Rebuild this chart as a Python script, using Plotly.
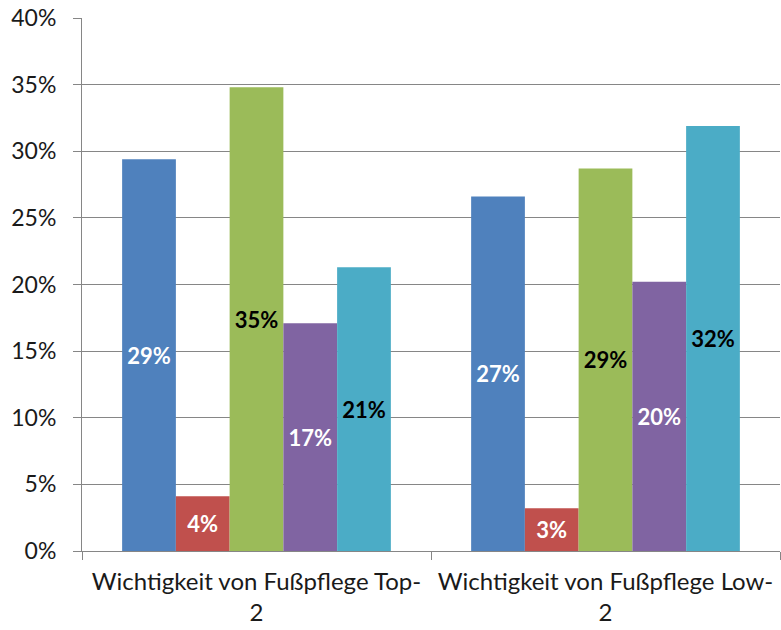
import plotly.graph_objects as go

categories = ["Wichtigkeit von Fußpflege Top-<br>2", "Wichtigkeit von Fußpflege Low-<br>2"]
series_names = ["S1", "S2", "S3", "S4", "S5"]
values = [
    [0.294, 0.266],
    [0.041, 0.032],
    [0.348, 0.287],
    [0.171, 0.202],
    [0.213, 0.319],
]
labels = [
    ["29%", "27%"],
    ["4%", "3%"],
    ["35%", "29%"],
    ["17%", "20%"],
    ["21%", "32%"],
]
colors = ["#4F81BD", "#C0504D", "#9BBB59", "#8064A2", "#4BACC6"]
label_colors = ["white", "white", "black", "white", "black"]
y_ticks = [0, 0.05, 0.10, 0.15, 0.20, 0.25, 0.30, 0.35, 0.40]
y_tick_text = ["0%", "5%", "10%", "15%", "20%", "25%", "30%", "35%", "40%"]

fig = go.Figure()
for name, vals, labs, col, lc in zip(series_names, values, labels, colors, label_colors):
    fig.add_trace(go.Bar(
        x=categories, y=vals, name=name, text=labs,
        textposition="inside", insidetextanchor="middle",
        textfont=dict(family="Lato", size=22, color=lc, weight="bold"),
        textangle=0,
        marker=dict(color=col, line=dict(width=0)),
        cliponaxis=False,
    ))

fig.update_layout(
    width=781, height=630,
    margin=dict(l=82, r=1, t=18, b=79),
    paper_bgcolor="white", plot_bgcolor="white",
    barmode="group", bargap=0.23, bargroupgap=0,
    showlegend=False,
    uniformtext=dict(mode=False),
    font=dict(family="Lato", size=23, color="#1a1a1a"),
)
fig.update_yaxes(
    range=[0, 0.40], tickvals=y_ticks, ticktext=y_tick_text,
    showgrid=True, gridcolor="#868686", gridwidth=1,
    showline=True, linecolor="#868686", linewidth=1,
    ticks="outside", ticklen=8, tickcolor="#868686",
    zeroline=False, tickfont=dict(size=23, family="Lato"),
    ticklabelstandoff=12, automargin=False,
)
fig.update_xaxes(
    showline=True, linecolor="#868686", linewidth=1,
    ticks="outside", ticklen=8, tickcolor="#868686", tickson="boundaries",
    tickfont=dict(size=24, family="Lato"),
    ticklabelstandoff=9, automargin=False,
    mirror=False,
)
fig.write_html(
    "out.html",
    config={"displayModeBar": False},
    post_script="document.body.style.margin='0';document.body.style.overflow='hidden';",
)
